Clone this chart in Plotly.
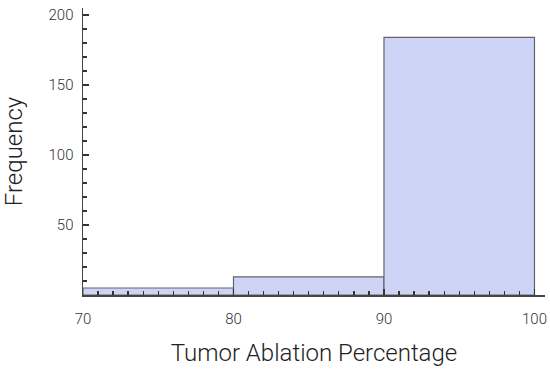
import plotly.graph_objects as go

bin_edges = [70, 80, 90, 100]
counts = [5, 13, 184]
x_tick_vals = [70, 80, 90, 100]
x_tick_text = ["70", "80", "90", "100"]
y_tick_vals = [50, 100, 150, 200]
y_tick_text = ["50", "100", "150", "200"]

centers = [(a + b) / 2 for a, b in zip(bin_edges[:-1], bin_edges[1:])]
widths = [b - a for a, b in zip(bin_edges[:-1], bin_edges[1:])]

font_family = "Roboto, Liberation Sans, Arial, sans-serif"

fig = go.Figure(go.Bar(
    x=centers, y=counts, width=widths,
    marker=dict(color="rgb(205,212,245)", line=dict(color="rgb(100,100,105)", width=1.2)),
    hoverinfo="skip",
))

fig.update_layout(
    width=550, height=376,
    margin=dict(l=83, r=5, t=8, b=81),
    paper_bgcolor="white", plot_bgcolor="white",
    showlegend=False,
    font=dict(family=font_family, color="#222", weight=300),
    bargap=0,
)
fig.update_xaxes(
    range=[70, 100.7], automargin=False,
    showgrid=False, zeroline=False,
    showline=True, linecolor="#444", linewidth=1.5,
    ticks="inside", ticklen=6, tickwidth=1.5, tickcolor="#333",
    tickvals=x_tick_vals, ticktext=x_tick_text,
    minor=dict(ticks="inside", dtick=1, tick0=70, ticklen=4, tickwidth=1.3, tickcolor="#333", showgrid=False),
    tickfont=dict(size=15, color="#333", weight=300),
    ticklabelstandoff=9,
    layer="above traces",
    title=dict(text="Tumor Ablation Percentage", font=dict(size=24, color="#222", weight=300), standoff=17),
)
fig.update_yaxes(
    range=[0, 205], automargin=False,
    showgrid=False, zeroline=False,
    showline=True, linecolor="#444", linewidth=1.5,
    ticks="inside", ticklen=6, tickwidth=1.5, tickcolor="#333",
    tickvals=y_tick_vals, ticktext=y_tick_text,
    minor=dict(ticks="inside", dtick=10, tick0=0, ticklen=4, tickwidth=1.3, tickcolor="#333", showgrid=False),
    tickfont=dict(size=15, color="#333", weight=300),
    ticklabelstandoff=5,
    layer="above traces",
    title=dict(text="Frequency", font=dict(size=24, color="#222", weight=300), standoff=24),
)

fig.write_html(
    "out.html",
    config={"displayModeBar": False, "staticPlot": True},
    post_script="document.body.style.margin='0';document.body.style.overflow='hidden';",
)
